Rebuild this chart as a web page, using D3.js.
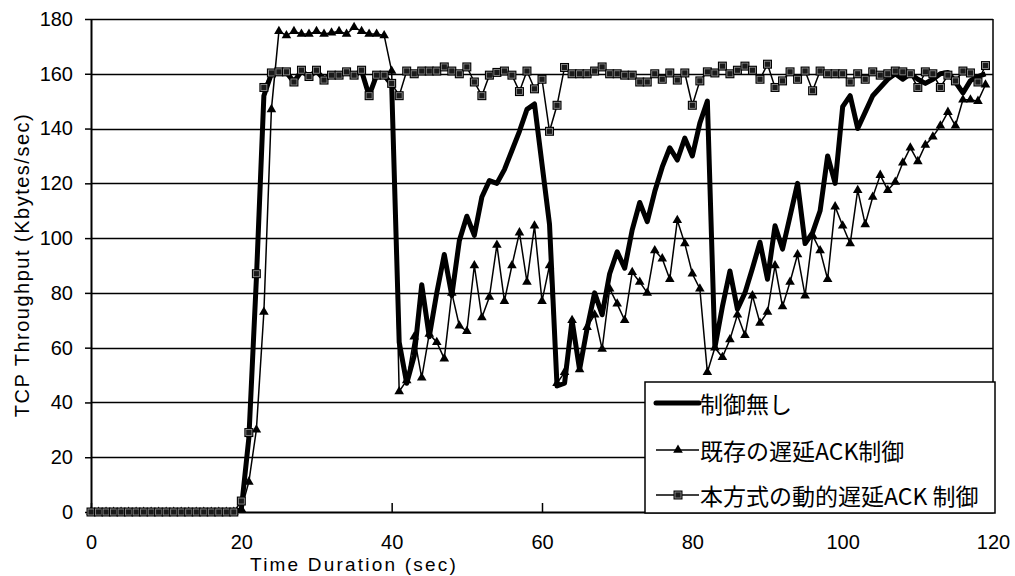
<!DOCTYPE html>
<html><head><meta charset="utf-8">
<script src="https://cdn.jsdelivr.net/npm/d3@7"></script>
<style>body{margin:0;background:#fff}svg{display:block}</style>
</head><body>
<svg id="c" width="1015" height="576"></svg>
<script>
// ---- data ----
const times = [0,1,2,3,4,5,6,7,8,9,10,11,12,13,14,15,16,17,18,19,
20,21,22,23,24,25,26,27,28,29,30,31,32,33,34,35,36,37,38,39,
40,41,42,43,44,45,46,47,48,49,50,51,52,53,54,55,56,57,58,59,
60,61,62,63,64,65,66,67,68,69,70,71,72,73,74,75,76,77,78,79,
80,81,82,83,84,85,86,87,88,89,90,91,92,93,94,95,96,97,98,99,
100,101,102,103,104,105,106,107,108,109,110,111,112,113,114,115,116,117,118,119];

const noControl = [0,0,0,0,0,0,0,0,0,0,0,0,0,0,0,0,0,0,0,0,
1,27,85,152,160,160.5,160.5,157,161,159,161,158,159.5,159.5,160.5,159.5,161,152,159.5,159.5,
156,62,47,57,83,64,80,94,79,99,108,101,115,121,120,125,132,139,147,149,
127,105,46,47,70,52,67,80,72,87,95,89,103,113,106,117,126,133,128.5,136.5,
130,142,150,60,75,88,74,80,89,98.5,85,104.5,96,108,120,98,102,110,130,120,
148,152,140,146,152,155,158,160,158,160,158,156.5,158,160,160.5,157,153,157.5,159,160];

const existingDelayedAck = [0,0,0,0,0,0,0,0,0,0,0,0,0,0,0,0,0,0,0,0,
1,11,30,73,147,175.5,174,175.5,174.5,174.5,175.5,174.5,175,175.5,174.5,177,175.5,174.5,174.5,174,
161,44,48,64,49,65,62,56,80,68,66,90,71,78.5,97.5,77,90,102,84,104.5,
77,90,47,51,70,52,67.5,72,59.5,81.5,76,70,87.5,84,80,95.5,92.5,85,106.5,98,
87,81.5,51,60,56.5,63,72,64.5,79,69,73,90,75,84,94,79,101,95.5,85,111.5,
104.5,98,117.5,105,115,123,117.5,120.5,127.5,133,128,134,137,141,146,141,150.5,150.5,150,156];

const proposedDynamicAck = [0,0,0,0,0,0,0,0,0,0,0,0,0,0,0,0,0,0,0,0,
4,29,87,155,160.3,160.7,160.7,157,161.3,159,161.3,157.7,159.5,159.5,160.7,159.5,161.3,152,159.5,159.5,
156.5,152,161,160,161,161,161,162.5,161,160,162.5,157,152,159.5,160.5,161,159.5,153.5,161,154.5,
158,139,148.5,162.3,160,160,160,161,162.5,160,160,159.5,159.5,157,157,160,158,160.3,157.7,160.3,
148.5,157.4,160.7,160.3,162.8,160,161.3,162.8,161.3,158,163.5,155,157.4,160.7,158,161,153.8,161,160,160,
160,157,160,158,160.7,159.5,160,161,160.7,160,155,160.7,160,155,159.5,157.4,161,160.3,157,163];

const xTicks = [0,20,40,60,80,100,120];
const yTicks = [0,20,40,60,80,100,120,140,160,180];
const seriesNames = ["制御無し","既存の遅延ACK制御","本方式の動的遅延ACK 制御"];
const xTitle = "Time Duration (sec)";
const yTitle = "TCP Throughput (Kbytes/sec)";

// ---- layout ----
const L = 91, R = 993, T = 19, B = 512;
const latin = "'Liberation Sans', Arial, sans-serif";
const cjk = "'Noto Sans CJK JP', 'Liberation Sans', sans-serif";

const svg = d3.select("#c");
const x = d3.scaleLinear().domain([0,120]).range([L,R]);
const y = d3.scaleLinear().domain([0,180]).range([B,T]);

// gridlines
svg.append("g").selectAll("line").data(yTicks.filter(v=>v>0)).join("line")
  .attr("x1",L).attr("x2",R).attr("y1",d=>Math.round(y(d))+0.5).attr("y2",d=>Math.round(y(d))+0.5)
  .attr("stroke","#000").attr("stroke-width",1.3);

// plot border (right)
svg.append("line").attr("x1",R).attr("x2",R).attr("y1",T).attr("y2",B)
  .attr("stroke","#000").attr("stroke-width",1.5);

// y axis
const yAxis = svg.append("g").attr("transform",`translate(${L},0)`)
  .call(d3.axisLeft(y).tickValues(yTicks).tickSize(6).tickPadding(12).tickSizeOuter(0));
yAxis.select(".domain").attr("stroke-width",2);
yAxis.selectAll(".tick line").attr("stroke-width",1.5);
yAxis.selectAll("text").attr("font-family",latin).attr("font-size",20).attr("fill","#000");

// x axis
const xAxis = svg.append("g").attr("transform",`translate(0,${B})`)
  .call(d3.axisBottom(x).tickValues(xTicks).tickSize(-9).tickSizeOuter(0).tickFormat(d3.format("d")));
xAxis.select(".domain").attr("stroke-width",2);
xAxis.selectAll(".tick line").attr("stroke-width",1.5);
xAxis.selectAll("text").attr("font-family",latin).attr("font-size",20).attr("fill","#000")
  .attr("y",37).attr("dy",0);

// titles
svg.append("text").attr("x",354).attr("y",571).attr("text-anchor","middle")
  .attr("font-family",latin).attr("font-size",19).attr("letter-spacing",2.2).text(xTitle);
svg.append("text").attr("transform","translate(29,265) rotate(-90)").attr("text-anchor","middle")
  .attr("font-family",latin).attr("font-size",20).attr("letter-spacing",1.5).text(yTitle);

// series
const line = d3.line().x((d,i)=>x(times[i])).y(d=>y(d));

svg.append("path").datum(noControl).attr("d",line)
  .attr("fill","none").attr("stroke","#000").attr("stroke-width",5).attr("stroke-linejoin","round");

svg.append("path").datum(existingDelayedAck).attr("d",line)
  .attr("fill","none").attr("stroke","#000").attr("stroke-width",1.5);
const tri = d3.symbol().type(d3.symbolTriangle).size(40);
svg.append("g").selectAll("path").data(existingDelayedAck).join("path")
  .attr("d",tri).attr("transform",(d,i)=>`translate(${x(times[i])},${y(d)})`).attr("fill","#000");

svg.append("path").datum(proposedDynamicAck).attr("d",line)
  .attr("fill","none").attr("stroke","#000").attr("stroke-width",1.5);
const sq = svg.append("g").selectAll("g").data(proposedDynamicAck).join("g")
  .attr("transform",(d,i)=>`translate(${x(times[i])},${y(d)})`);
sq.append("rect").attr("x",-4.5).attr("y",-4.5).attr("width",9).attr("height",9).attr("fill","#000");
sq.append("rect").attr("x",-3).attr("y",-3).attr("width",6).attr("height",6)
  .attr("fill","#1a1a1a").attr("stroke","#9a9a9a").attr("stroke-width",0.8);

// legend
const lg = svg.append("g");
lg.append("rect").attr("x",645).attr("y",382).attr("width",350).attr("height",131)
  .attr("fill","#fff").attr("stroke","#000").attr("stroke-width",1.5);
const rows = [403,450,495];
rows.forEach((ry,i)=>{
  lg.append("line").attr("x1",656).attr("x2",699).attr("y1",ry).attr("y2",ry)
    .attr("stroke","#000").attr("stroke-width", i===0?5:1.5).attr("stroke-linecap", i===0?"round":"butt");
  if(i===1) lg.append("path").attr("d",tri).attr("transform",`translate(678,${ry})`).attr("fill","#000");
  if(i===2){
    lg.append("rect").attr("x",673.5).attr("y",ry-4.5).attr("width",9).attr("height",9).attr("fill","#000");
    lg.append("rect").attr("x",675).attr("y",ry-3).attr("width",6).attr("height",6)
      .attr("fill","#1a1a1a").attr("stroke","#9a9a9a").attr("stroke-width",0.8);
  }
  lg.append("text").attr("x",700).attr("y",ry).attr("dominant-baseline","central")
    .attr("font-family",cjk).attr("font-size",23).text(seriesNames[i]);
});
</script>
</body></html>
